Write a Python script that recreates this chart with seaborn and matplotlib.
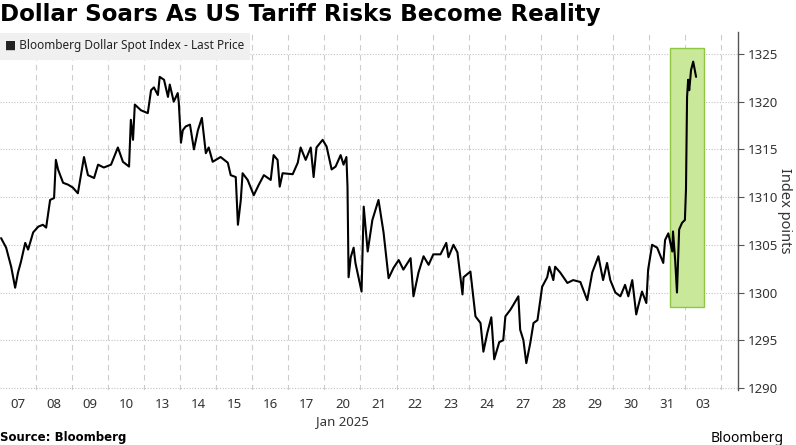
import numpy as np
import pandas as pd
import matplotlib
matplotlib.use('Agg')
import matplotlib.pyplot as plt
from matplotlib.patches import Rectangle
import seaborn as sns

# trading days shown on the x axis (Jan 2025, then 03 Feb)
days = ['07', '08', '09', '10', '13', '14', '15', '16', '17', '20',
        '21', '22', '23', '24', '27', '28', '29', '30', '31', '03']

# time in trading days since the open of 07 Jan
t = [0.03, 0.17, 0.31, 0.42, 0.50, 0.58, 0.70, 0.78, 0.92, 1.06, 1.19, 1.28, 1.39, 1.50,
     1.55, 1.61, 1.75, 1.89, 2.02, 2.16, 2.33, 2.44, 2.61, 2.72, 2.88, 3.08, 3.27, 3.41,
     3.58, 3.63, 3.69, 3.74, 3.91, 4.10, 4.19, 4.27, 4.38, 4.43, 4.55, 4.66, 4.71, 4.82,
     4.93, 4.96, 5.02, 5.07, 5.15, 5.27, 5.38, 5.49, 5.60, 5.71, 5.79, 5.90, 6.12, 6.32,
     6.40, 6.54, 6.60, 6.68, 6.73, 6.87, 7.04, 7.18, 7.32, 7.51, 7.59, 7.70, 7.76, 7.84,
     8.12, 8.26, 8.34, 8.48, 8.62, 8.70, 8.78, 8.95, 9.06, 9.20, 9.31, 9.45, 9.53, 9.61,
     9.64, 9.67, 9.73, 9.81, 9.86, 9.95, 10.03, 10.09, 10.14, 10.20, 10.33, 10.50, 10.64,
     10.78, 10.92, 11.06, 11.19, 11.39, 11.47, 11.61, 11.75, 11.89, 12.02, 12.22, 12.38,
     12.44, 12.58, 12.69, 12.83, 12.86, 13.05, 13.19, 13.33, 13.41, 13.52, 13.63, 13.71,
     13.85, 13.96, 14.02, 14.16, 14.24, 14.38, 14.43, 14.52, 14.60, 14.71, 14.80, 14.91,
     15.04, 15.18, 15.24, 15.35, 15.40, 15.54, 15.74, 15.90, 16.10, 16.29, 16.43, 16.60,
     16.73, 16.84, 16.93, 17.07, 17.21, 17.34, 17.43, 17.54, 17.65, 17.70, 17.81, 17.93,
     17.98, 18.09, 18.23, 18.40, 18.45, 18.54, 18.65, 18.67, 18.73, 18.78, 18.84, 18.92,
     19.00, 19.03, 19.06, 19.09, 19.12, 19.17, 19.23, 19.31]

price = [1305.7, 1304.7, 1302.7, 1300.5, 1302.1, 1303.2, 1305.2, 1304.5, 1306.3, 1306.9,
         1307.1, 1306.8, 1309.7, 1309.9, 1313.9, 1312.9, 1311.5, 1311.3, 1311.0, 1310.4,
         1314.2, 1312.3, 1312.0, 1313.4, 1313.1, 1313.4, 1315.2, 1313.7, 1313.2, 1318.1,
         1316.0, 1319.7, 1319.1, 1318.8, 1321.2, 1321.5, 1320.7, 1322.6, 1322.3, 1320.5,
         1321.8, 1320.0, 1320.9, 1319.9, 1315.7, 1317.0, 1317.4, 1317.6, 1315.0, 1317.0,
         1318.3, 1314.6, 1315.2, 1313.7, 1314.2, 1313.6, 1312.3, 1312.1, 1307.1, 1309.7,
         1312.5, 1311.8, 1310.2, 1311.3, 1312.3, 1311.8, 1314.4, 1313.9, 1311.1, 1312.5,
         1312.4, 1313.6, 1315.2, 1313.9, 1315.2, 1312.1, 1315.2, 1316.0, 1315.3, 1312.9,
         1313.2, 1314.4, 1313.4, 1314.2, 1311.1, 1301.6, 1303.7, 1304.7, 1303.1, 1301.5,
         1300.1, 1309.0, 1306.9, 1304.3, 1307.6, 1309.7, 1306.3, 1301.5, 1302.6, 1303.4,
         1302.4, 1303.6, 1299.6, 1302.1, 1303.8, 1302.9, 1304.0, 1304.0, 1305.2, 1303.7,
         1305.0, 1304.2, 1299.8, 1301.6, 1302.2, 1297.5, 1296.8, 1293.8, 1295.8, 1297.4,
         1293.0, 1294.8, 1295.0, 1297.5, 1298.2, 1298.7, 1299.6, 1296.1, 1295.0, 1292.6,
         1294.7, 1296.8, 1297.1, 1300.6, 1301.6, 1302.7, 1301.3, 1302.7, 1302.1, 1301.0,
         1301.3, 1301.1, 1299.2, 1302.1, 1303.8, 1301.3, 1303.1, 1301.3, 1300.0, 1299.6,
         1300.8, 1299.6, 1301.3, 1297.7, 1298.5, 1300.1, 1298.9, 1302.4, 1305.0, 1304.7,
         1303.1, 1305.5, 1306.2, 1304.3, 1306.4, 1303.4, 1300.0, 1306.6, 1307.3, 1307.6,
         1310.8, 1320.5, 1322.3, 1321.2, 1323.3, 1324.2, 1322.6]

yticks = [1290, 1295, 1300, 1305, 1310, 1315, 1320, 1325]

df = pd.DataFrame({'t': t, 'price': price})

sns.set_theme(style='white')
plt.rcParams['font.family'] = ['Noto Sans', 'DejaVu Sans']

fig = plt.figure(figsize=(7.96, 4.45), dpi=100)
ax = fig.add_axes([0.0, 0.124, 0.927, 0.804])

# highlighted tariff jump
ax.add_patch(Rectangle((18.59, 1298.5), 0.94, 27.1, facecolor='#c9e89a',
                       edgecolor='#8fc742', lw=1, zorder=1))

sns.lineplot(data=df, x='t', y='price', color='black', lw=1.5,
             estimator=None, sort=False, ax=ax, zorder=3)

ax.set_xlim(0, 20.47)
ax.set_ylim(1289.8, 1327.3)
ax.yaxis.tick_right()
ax.yaxis.set_label_position('right')
ax.set_yticks(yticks)
ax.set_xticks(np.arange(len(days)) + 0.5)
ax.set_xticklabels(days)
ax.set_xticks(np.arange(1, len(days) + 1), minor=True)
ax.tick_params(axis='x', which='both', length=0, pad=6, labelsize=9.5, labelcolor='#333333')
ax.tick_params(axis='y', length=4, width=0.8, color='#555555', direction='out', pad=3,
               labelsize=9.5, labelcolor='#333333')
ax.grid(axis='y', which='major', ls=(0, (1, 1.5)), color='#c4c4c4', lw=0.8)
ax.grid(axis='x', which='minor', ls=(0, (5, 4)), color='#cccccc', lw=0.8)
ax.grid(axis='x', which='major', visible=False)
for s in ['left', 'top', 'bottom']:
    ax.spines[s].set_visible(False)
ax.spines['right'].set_color('#555555')
ax.spines['right'].set_linewidth(1)
ax.set_xlabel('')
ax.set_ylabel('Index points', rotation=270, labelpad=10, fontsize=10.5, color='#333333')
ax.text(9.5, -0.089, 'Jan 2025', transform=ax.get_xaxis_transform(), ha='center',
        va='center', fontsize=9.5, color='#333333')

# legend strip
fig.patches.append(Rectangle((0, 1 - 60 / 445), 250 / 796, 27 / 445, transform=fig.transFigure,
                             facecolor='#f0f0f0', edgecolor='none', zorder=5))
fig.text(0.006, 1 - 46 / 445, '■ Bloomberg Dollar Spot Index - Last Price', va='center',
         fontsize=8.5, color='#222222', zorder=6)

fig.text(0.0, 1 - 15 / 445, 'Dollar Soars As US Tariff Risks Become Reality', va='center',
         fontsize=16.6, fontweight='bold', family='DejaVu Sans', color='black')
fig.text(0.0, 1 - 438 / 445, 'Source: Bloomberg', va='center', fontsize=8.5,
         fontweight='bold', family='DejaVu Sans', color='black')
fig.text(0.985, 1 - 438 / 445, 'Bloomberg', ha='right', va='center', fontsize=10,
         fontweight='bold', color='black')

fig.savefig('out.png', dpi=100)
